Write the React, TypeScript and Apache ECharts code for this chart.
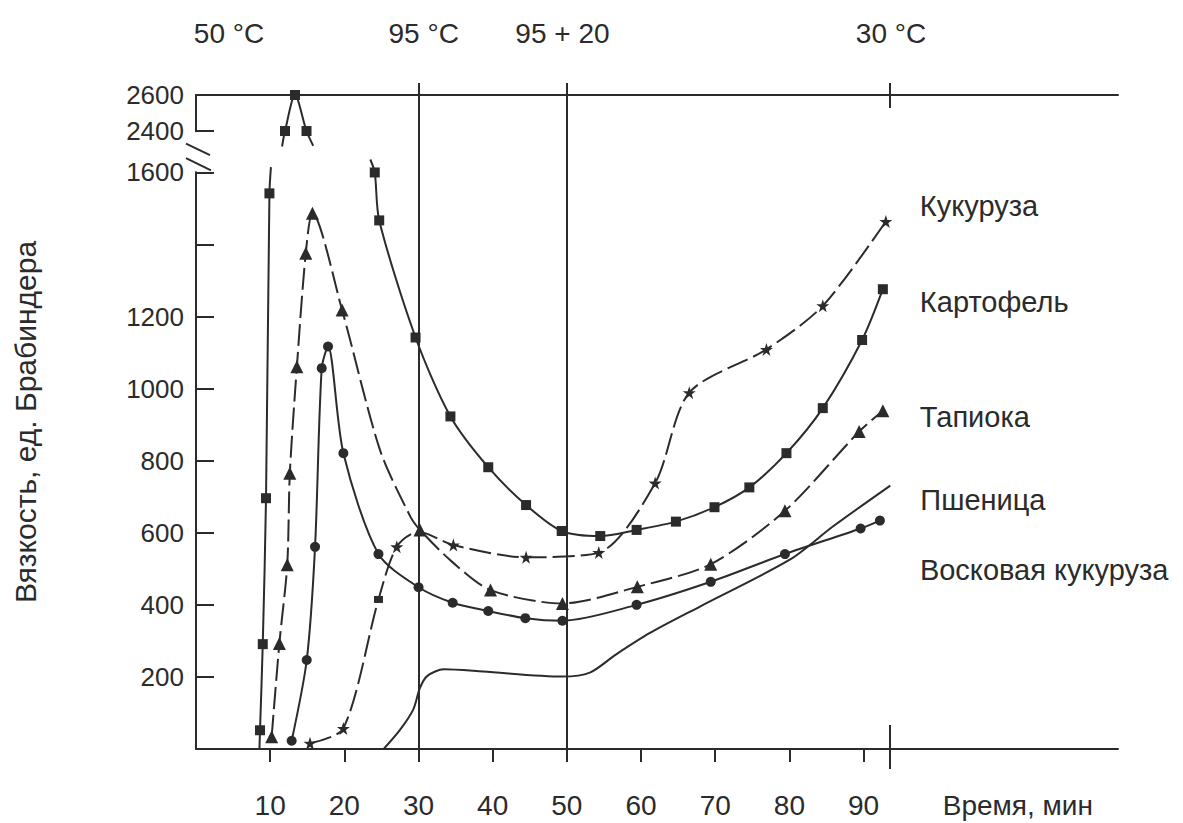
import React, { useEffect, useRef } from "react";
import * as echarts from "echarts";

// ---- axis values ----
const xTicks = [10, 20, 30, 40, 50, 60, 70, 80, 90];
const xTitle = "Время, мин";
const xTitleAt = 110.8;
const yTickValues = [200, 400, 600, 800, 1000, 1200, 1400, 1600, 2400];
const yLabelValues = [200, 400, 600, 800, 1000, 1200, 1600, 2400, 2600];
const yTitle = "Вязкость, ед. Брабиндера";
const topLabels = ["50 °C", "95 °C", "95 + 20", "30 °C"];
const topLabelTimes = [4.45, 30.7, 49.4, 93.7];
const topTickTimes = [30, 50, 93.5];
const holdLines = [30, 50];
const endTick = 93.5;

// axis break: 1600 ... 2400 (upper part drawn at half scale)
const breakLow = 1600;
const breakHigh = 2400;
const breakGap = 115;
const upperScale = 0.5;
const yTop = 2600;

// ---- series: [time, viscosity, marker(1 yes, 0 none, 2 small rect)] ----
const potato: [number, number | null, number][] = [
  [8.55, 0, 0], [8.63, 52, 1], [9.0, 291, 1], [9.44, 696, 1], [9.9, 1542, 1], [10.1, 1615, 0],
  [11.0, null, 0],
  [11.6, 2314, 0], [12.0, 2400, 1], [13.35, 2600, 1], [14.9, 2400, 1], [15.8, 2318, 0],
  [20.0, null, 0],
  [23.5, 1636, 0], [24.1, 1600, 1], [24.7, 1467, 1], [29.6, 1142, 1], [34.3, 923, 1],
  [39.4, 782, 1], [44.5, 677, 1], [49.3, 605, 1], [54.5, 591, 1], [59.4, 608, 1],
  [64.7, 631, 1], [69.9, 671, 1], [74.6, 726, 1], [79.6, 821, 1], [84.5, 946, 1],
  [89.8, 1135, 1], [92.6, 1276, 1],
];
const tapioca: [number, number | null, number][] = [
  [10.2, 34, 1], [11.24, 293, 1], [12.3, 511, 1], [12.65, 765, 1], [13.6, 1061, 1],
  [14.8, 1376, 1], [15.7, 1487, 1], [19.7, 1218, 1], [24.8, 830, 0], [28.9, 645, 0],
  [30.2, 608, 1], [34.5, 520, 0], [39.7, 441, 1], [49.4, 404, 1], [59.5, 450, 1],
  [69.4, 513, 1], [79.4, 661, 1], [89.4, 881, 1], [92.6, 939, 1],
];
const waxy: [number, number | null, number][] = [
  [12.9, 23, 1], [14.93, 247, 1], [16.05, 561, 1], [16.95, 1057, 1], [17.8, 1117, 1],
  [19.87, 821, 1], [24.6, 541, 1], [30.0, 449, 1], [34.6, 406, 1], [39.4, 383, 1],
  [44.4, 363, 1], [49.4, 356, 1], [59.4, 400, 1], [69.4, 464, 1], [79.4, 541, 1],
  [89.6, 612, 1], [92.2, 634, 1],
];
const corn: [number, number | null, number][] = [
  [15.37, 16, 1], [19.87, 57, 1], [24.6, 415, 2], [27.07, 561, 1], [30.0, 603, 0],
  [34.7, 566, 1], [44.5, 532, 1], [54.3, 545, 1], [61.9, 738, 1], [66.5, 989, 1],
  [76.9, 1109, 1], [84.5, 1230, 1], [93.0, 1464, 1],
];
const wheat: [number, number | null, number][] = [
  [25.3, 0, 0], [27.5, 53, 0], [29.3, 110, 0], [30.2, 170, 0], [31.2, 203, 0],
  [33.4, 221, 0], [38.7, 215, 0], [49.4, 201, 0], [53.1, 212, 0], [56.6, 262, 0],
  [61.2, 322, 0], [68.0, 396, 0], [80.1, 526, 0], [85.9, 618, 0], [93.6, 731, 0],
];

const names = ["Кукуруза", "Картофель", "Тапиока", "Пшеница", "Восковая кукуруза"];

const FONT = "'Liberation Sans', Arial, Helvetica, sans-serif";
const INK = "#2b2b2b";
const STAR =
  "path://M50 0 L61.8 35.3 L98.5 35.3 L68.8 57.1 L79.4 91.9 L50 70.4 L20.6 91.9 L31.2 57.1 L1.5 35.3 L38.2 35.3 Z";

const GRID_LEFT = 196;
const GRID_RIGHT = 65;
const GRID_TOP = 95;
const GRID_BOTTOM = 74;
const W = 1183;
const H = 823;
const X_MAX = 124.3;

const toDisplay = (v: number) =>
  v >= 2000 ? breakLow + breakGap + (v - breakHigh) * upperScale : v;
const fromDisplay = (d: number) =>
  d > breakLow + breakGap / 2 ? breakHigh + (d - breakLow - breakGap) / upperScale : d;
const Y_MAX = toDisplay(yTop);

const toData = (pts: [number, number | null, number][]) =>
  pts.map(([t, v, m]) => {
    if (v === null) return [t, "-"];
    const item: any = { value: [t, toDisplay(v)] };
    if (m === 0) item.symbol = "none";
    if (m === 2) {
      item.symbol = "rect";
      item.symbolSize = [9, 7];
    }
    return item;
  });

const nearestIdx = (arr: number[], v: number) => {
  let best = 0;
  arr.forEach((a, i) => {
    if (Math.abs(a - v) < Math.abs(arr[best] - v)) best = i;
  });
  return best;
};

export default function App() {
  const ref = useRef<HTMLDivElement>(null);

  useEffect(() => {
    document.body.style.margin = "0";
    if (!ref.current) return;
    const chart = echarts.init(ref.current, undefined, { renderer: "svg" });

    const gridH = H - GRID_TOP - GRID_BOTTOM;
    const yPix = (d: number) => GRID_TOP + gridH * (1 - d / Y_MAX);

    const baseX = {
      type: "value",
      min: 0,
      max: X_MAX,
      splitLine: { show: false },
      axisLine: { show: false, onZero: false },
      axisLabel: { show: false },
    };

    const lineSeries = (
      name: string,
      pts: [number, number | null, number][],
      symbol: string,
      symbolSize: number,
      dashed: boolean,
      offset: [number, number]
    ) => ({
      type: "line",
      name,
      data: toData(pts),
      smooth: 0.28,
      symbol,
      symbolSize,
      showSymbol: true,
      connectNulls: false,
      clip: false,
      silent: true,
      lineStyle: { color: INK, width: 2, type: dashed ? [22, 6] : "solid" },
      itemStyle: { color: INK, borderWidth: 0 },
      emphasis: { disabled: true },
      endLabel: {
        show: true,
        formatter: name,
        offset,
        align: "left",
        verticalAlign: "middle",
        distance: 5,
        fontSize: 29,
        color: INK,
        fontFamily: FONT,
      },
    });

    const option: any = {
      animation: false,
      backgroundColor: "#ffffff",
      grid: { left: GRID_LEFT, right: GRID_RIGHT, top: GRID_TOP, bottom: GRID_BOTTOM, containLabel: false },
      xAxis: [
        {
          ...baseX,
          position: "bottom",
          axisLine: { show: true, onZero: false, lineStyle: { color: INK, width: 2 } },
          axisTick: { show: true, customValues: xTicks, length: 13, lineStyle: { color: INK, width: 2 } },
          axisLabel: {
            show: true,
            customValues: [...xTicks, xTitleAt],
            formatter: (v: number) => (v > 100 ? xTitle : String(v)),
            margin: 42,
            fontSize: 28,
            color: INK,
            fontFamily: FONT,
          },
        },
        {
          ...baseX,
          position: "top",
          axisLine: { show: true, onZero: false, lineStyle: { color: INK, width: 2 } },
          axisTick: { show: true, customValues: topTickTimes, length: 12, lineStyle: { color: INK, width: 2 } },
          axisLabel: {
            show: true,
            customValues: topLabelTimes,
            formatter: (v: number) => topLabels[nearestIdx(topLabelTimes, v)],
            margin: 48,
            fontSize: 28,
            color: INK,
            fontFamily: FONT,
          },
        },
        {
          ...baseX,
          position: "bottom",
          axisTick: { show: true, inside: true, customValues: [endTick], length: 24, lineStyle: { color: INK, width: 2 } },
        },
        {
          ...baseX,
          position: "bottom",
          axisTick: { show: true, inside: false, customValues: [endTick], length: 20, lineStyle: { color: INK, width: 2 } },
        },
        {
          ...baseX,
          position: "top",
          axisTick: { show: true, inside: true, customValues: [endTick], length: 13, lineStyle: { color: INK, width: 2 } },
        },
      ],
      yAxis: {
        type: "value",
        min: 0,
        max: Y_MAX,
        splitLine: { show: false },
        axisLine: { show: true, onZero: false, lineStyle: { color: INK, width: 2 } },
        axisTick: {
          show: true,
          inside: true,
          length: 18,
          customValues: yTickValues.map(toDisplay),
          lineStyle: { color: INK, width: 2 },
        },
        axisLabel: {
          show: true,
          customValues: yLabelValues.map(toDisplay),
          formatter: (d: number) => String(Math.round(fromDisplay(d))),
          margin: 12,
          fontSize: 26,
          color: INK,
          fontFamily: FONT,
        },
        name: yTitle,
        nameLocation: "middle",
        nameRotate: 90,
        nameGap: 156,
        nameTextStyle: { fontSize: 30, color: INK, fontFamily: FONT },
      },
      series: [
        lineSeries(names[0], corn, STAR, 13, true, [29, -15]),
        lineSeries(names[1], potato, "rect", 10, false, [32, 13]),
        lineSeries(names[2], tapioca, "triangle", 13, true, [32, 6]),
        {
          ...lineSeries(names[3], wheat, "none", 0, false, [25, 14]),
          markLine: {
            silent: true,
            symbol: "none",
            label: { show: false },
            lineStyle: { color: INK, width: 2, type: "solid" },
            data: holdLines.map((x) => ({ xAxis: x })),
          },
        },
        lineSeries(names[4], waxy, "circle", 10, false, [35, 49]),
      ],
      graphic: [
        {
          type: "rect",
          z: 100,
          shape: { x: GRID_LEFT - 4, y: yPix(1712), width: 7, height: yPix(1603) - yPix(1712) },
          style: { fill: "#ffffff" },
        },
        {
          type: "line",
          z: 101,
          shape: { x1: GRID_LEFT - 10, y1: yPix(1680), x2: GRID_LEFT + 14, y2: yPix(1648) },
          style: { stroke: INK, lineWidth: 2 },
        },
        {
          type: "line",
          z: 101,
          shape: { x1: GRID_LEFT - 10, y1: yPix(1640), x2: GRID_LEFT + 15, y2: yPix(1606) },
          style: { stroke: INK, lineWidth: 2 },
        },
      ],
    };

    chart.setOption(option);
    return () => chart.dispose();
  }, []);

  return <div ref={ref} style={{ width: W, height: H }} />;
}
